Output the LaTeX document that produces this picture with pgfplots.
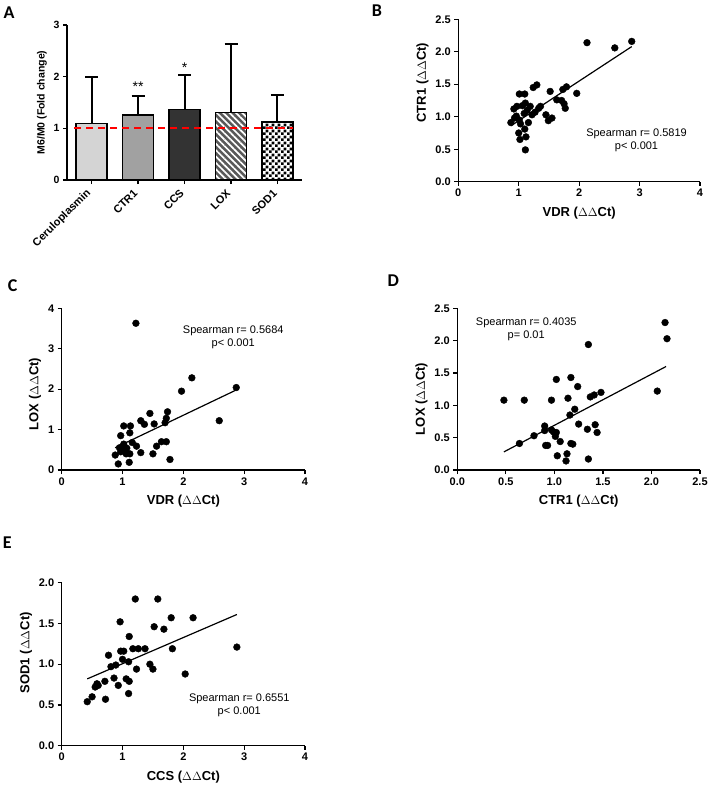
\documentclass[border=0pt]{standalone}
\usepackage{pgfplots}
\pgfplotsset{compat=1.18}
\usepackage{fontspec}
\setmainfont{Liberation Sans}
\newfontfamily\letterfont{Carlito}
\usetikzlibrary{patterns,patterns.meta}

\tikzdeclarepattern{
  name=smallchecks,
  type=uncolored,
  bounding box={(0pt,0pt) and (5.6pt,5.6pt)},
  tile size={(5.6pt,5.6pt)},
  code={
    \tikzset{x=1pt,y=1pt}
    \fill (0,0) rectangle (2.8,2.8);
    \fill (2.8,2.8) rectangle (5.6,5.6);
  }
}

\pgfplotsset{
  gp/.style={scale only axis, axis lines*=left, anchor=south west, clip=false,
    axis line style={line width=1.5pt}, tick align=outside, major tick length=4pt,
    tick style={black, line width=1.3pt},
    tick label style={font=\bfseries\fontsize{11}{12}\selectfont},
    label style={font=\bfseries\fontsize{13}{15}\selectfont},
    xlabel style={yshift=-3pt},
    /pgf/number format/assume math mode=true},
  dec/.style={yticklabel style={/pgf/number format/.cd, fixed, fixed zerofill, precision=1}},
  dot/.style={only marks, mark=*, mark size=3.4pt, black},
  fit/.style={black, line width=1.2pt, mark=none},
  bar/.style={ybar, bar shift=0pt, bar width=31pt, draw=black, line width=1.3pt},
}
\newcommand\spear{\fontsize{11}{13}\selectfont}
\newcommand\panel{\letterfont\bfseries\fontsize{18}{18}\selectfont}

\begin{document}
\begin{tikzpicture}
\useasboundingbox (0,0) rectangle (711pt,-787pt);

% A: bars
\begin{axis}[gp, at={(67pt,-180pt)}, width=235pt, height=155pt,
  xmin=-0.527, xmax=4.527, ymin=0, ymax=3,
  xtick={0,1,2,3,4}, ytick={0,1,2,3},
  xticklabels={Ceruloplasmin,CTR1,CCS,LOX,SOD1},
  xticklabel style={yshift=-5pt, rotate=45, anchor=east, font=\bfseries\fontsize{11}{12}\selectfont},
  yticklabel style={font=\bfseries\fontsize{10.5}{12}\selectfont},
  ylabel={M6/M0 (Fold change)},
  ylabel style={font=\bfseries\fontsize{10.5}{12}\selectfont}]
\addplot[bar, fill=black!17] coordinates {(0,1.10)};
\addplot[bar, fill=black!37] coordinates {(1,1.26)};
\addplot[bar, fill=black!80] coordinates {(2,1.37)};
\addplot[bar, fill=black!65, postaction={pattern={Lines[angle=-45,distance=4.5pt,line width=1.7pt]}, pattern color=white}] coordinates {(3,1.31)};
\addplot[bar, fill=white, postaction={pattern=smallchecks, pattern color=black}] coordinates {(4,1.12)};
\addplot[draw=none, mark=none, error bars/.cd, y dir=plus, y explicit,
  error bar style={draw=black, line width=2pt},
  error mark options={rotate=90, draw=black, line width=2pt, mark size=6.5pt}]
  coordinates {(0,1.10) +- (0,0.90) (1,1.26) +- (0,0.37) (2,1.37) +- (0,0.67) (3,1.31) +- (0,1.33) (4,1.12) +- (0,0.52)};
\addplot[red, line width=2.3pt, dash pattern=on 7pt off 5pt] coordinates {(-0.37,1) (4.34,1)};
\node[font=\fontsize{14}{14}\selectfont] at (axis cs:1,1.80) {**};
\node[font=\fontsize{14}{14}\selectfont] at (axis cs:2,2.17) {*};
\end{axis}

% B
\begin{axis}[gp, dec, at={(458.3pt,-181.7pt)}, width=241.7pt, height=162.4pt,
  xmin=0, xmax=4, ymin=0, ymax=2.5, xtick={0,1,2,3,4}, ytick={0,0.5,1,1.5,2,2.5},
  xlabel={VDR ($\Delta\Delta$Ct)}, ylabel={CTR1 ($\Delta\Delta$Ct)},
  ylabel style={at={(ticklabel cs:0.61)}}]
\addplot[dot] coordinates {(0.87,0.91) (0.92,1.12) (0.97,1.16) (1.01,1.35) (1.10,1.35) (0.96,1.01) (1.01,0.95) (1.03,0.89) (1.00,0.75) (1.02,0.65) (1.10,0.81) (1.12,0.69) (1.11,0.49) (1.09,1.05) (1.11,1.21) (1.16,0.91) (1.19,1.16) (1.22,1.03) (1.24,1.45) (1.30,1.49) (1.27,1.07) (1.33,1.13) (1.36,1.16) (1.45,1.03) (1.49,0.94) (1.55,0.98) (1.52,1.39) (1.63,1.26) (1.71,1.25) (1.73,1.42) (1.79,1.46) (1.75,1.20) (1.77,1.13) (1.96,1.36) (2.13,2.14) (2.59,2.06) (2.87,2.16) (0.93,0.98) (1.14,1.10) (1.06,1.17)};
\addplot[fit] coordinates {(0.87,0.86) (2.87,2.08)};
\node[font=\spear, align=center] at (axis cs:2.95,0.64) {Spearman r= 0.5819\\p< 0.001};
\end{axis}

% C
\begin{axis}[gp, at={(61.7pt,-470pt)}, width=243.3pt, height=161.7pt,
  xmin=0, xmax=4, ymin=0, ymax=4, xtick={0,1,2,3,4}, ytick={0,1,2,3,4},
  xlabel={VDR ($\Delta\Delta$Ct)}, ylabel={LOX ($\Delta\Delta$Ct)},
  ylabel style={at={(ticklabel cs:0.47)}}]
\addplot[dot] coordinates {(1.22,3.63) (2.14,2.28) (1.97,1.95) (2.87,2.04) (2.59,1.22) (1.45,1.40) (1.74,1.44) (1.72,1.28) (1.70,1.17) (1.30,1.22) (1.36,1.13) (1.52,1.14) (1.02,1.09) (1.13,1.09) (1.12,0.92) (0.97,0.85) (1.02,0.64) (1.00,0.58) (1.07,0.54) (1.23,0.59) (1.16,0.68) (1.56,0.59) (1.64,0.70) (1.72,0.70) (0.97,0.45) (1.06,0.40) (1.12,0.40) (1.30,0.43) (0.88,0.37) (1.50,0.40) (0.93,0.15) (1.11,0.19) (1.78,0.26) (1.04,0.52) (0.95,0.55)};
\addplot[fit] coordinates {(0.88,0.55) (2.87,1.98)};
\node[font=\spear, align=center] at (axis cs:2.82,3.29) {Spearman r= 0.5684\\p< 0.001};
\end{axis}

% D
\begin{axis}[gp, dec, at={(457.3pt,-470pt)}, width=242.7pt, height=161.7pt,
  xmin=0, xmax=2.5, ymin=0, ymax=2.5, xtick={0,0.5,1,1.5,2,2.5}, ytick={0,0.5,1,1.5,2,2.5},
  xticklabel style={/pgf/number format/.cd, fixed, fixed zerofill, precision=1},
  xlabel={CTR1 ($\Delta\Delta$Ct)}, ylabel={LOX ($\Delta\Delta$Ct)},
  ylabel style={at={(ticklabel cs:0.44)}}]
\addplot[dot] coordinates {(2.14,2.28) (2.16,2.03) (2.06,1.22) (1.35,1.94) (0.48,1.08) (0.69,1.08) (0.97,1.08) (1.02,1.40) (1.17,1.43) (1.24,1.29) (1.14,1.11) (1.37,1.13) (1.41,1.16) (1.48,1.20) (1.21,0.94) (1.16,0.85) (1.25,0.71) (1.34,0.63) (1.42,0.70) (1.44,0.58) (0.90,0.68) (0.90,0.61) (0.79,0.53) (0.64,0.41) (0.99,0.59) (1.02,0.58) (1.01,0.52) (1.06,0.44) (0.91,0.38) (0.93,0.38) (1.17,0.41) (1.19,0.40) (1.03,0.22) (1.13,0.25) (1.12,0.14) (1.35,0.17) (0.97,0.62)};
\addplot[fit] coordinates {(0.48,0.28) (2.15,1.60)};
\node[font=\spear, align=center] at (axis cs:0.71,2.18) {Spearman r= 0.4035\\p= 0.01};
\end{axis}

% E
\begin{axis}[gp, dec, at={(61.7pt,-745.7pt)}, width=243.3pt, height=163pt,
  xmin=0, xmax=4, ymin=0, ymax=2, xtick={0,1,2,3,4}, ytick={0,0.5,1,1.5,2},
  xlabel={CCS ($\Delta\Delta$Ct)}, ylabel={SOD1 ($\Delta\Delta$Ct)},
  ylabel style={at={(ticklabel cs:0.57)}}]
\addplot[dot] coordinates {(1.21,1.80) (1.58,1.80) (0.96,1.52) (1.80,1.57) (2.16,1.57) (1.52,1.46) (1.68,1.43) (1.11,1.34) (1.82,1.19) (2.88,1.21) (1.17,1.19) (1.26,1.19) (1.37,1.19) (0.97,1.16) (1.02,1.16) (0.77,1.11) (1.00,1.06) (1.10,1.03) (1.23,0.94) (1.45,1.00) (1.50,0.94) (2.03,0.88) (0.89,0.99) (0.81,0.97) (0.86,0.83) (1.06,0.82) (1.11,0.79) (0.93,0.74) (0.71,0.79) (0.55,0.72) (0.60,0.74) (0.58,0.76) (0.50,0.60) (0.42,0.54) (0.72,0.57) (1.10,0.64)};
\addplot[fit] coordinates {(0.42,0.82) (2.88,1.61)};
\node[font=\spear, align=center] at (axis cs:2.92,0.50) {Spearman r= 0.6551\\p< 0.001};
\end{axis}

\node[font=\panel] at (9pt,-13pt) {A};
\node[font=\panel] at (377pt,-11pt) {B};
\node[font=\panel] at (12.7pt,-286pt) {C};
\node[font=\panel] at (393.3pt,-280.7pt) {D};
\node[font=\panel] at (7.3pt,-542.7pt) {E};
\end{tikzpicture}
\end{document}
